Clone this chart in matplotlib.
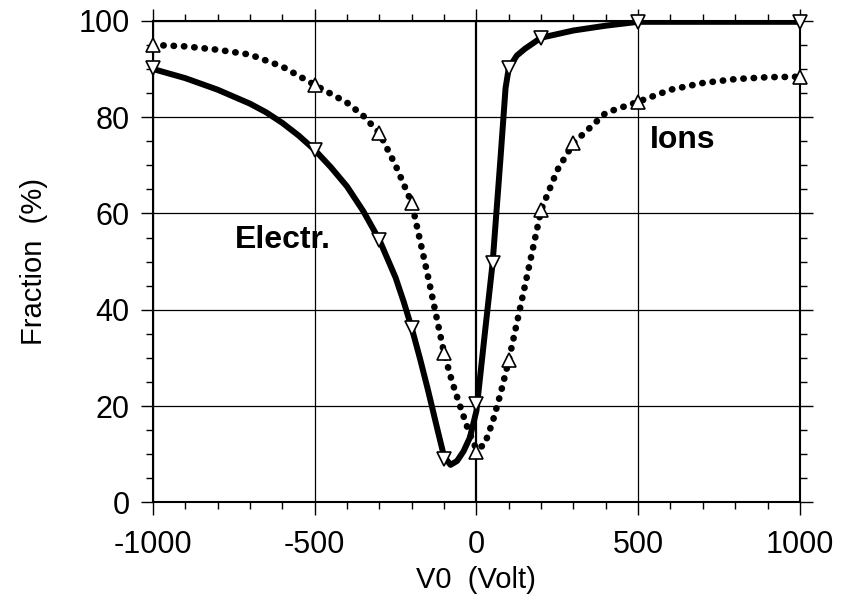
import matplotlib
matplotlib.use("Agg")
import matplotlib.pyplot as plt
from matplotlib.ticker import MultipleLocator

# Marker data
electr_x = [-1000, -500, -300, -200, -100, 0, 50, 100, 200, 500, 1000]
electr_y = [90.2, 73.2, 54.5, 36.2, 9.1, 20.5, 49.7, 90.2, 96.5, 99.8, 99.8]

ions_x = [-1000, -500, -300, -200, -100, 0, 100, 200, 300, 500, 1000]
ions_y = [95.0, 86.7, 76.7, 62.2, 31.0, 10.4, 29.5, 60.7, 74.6, 83.2, 88.4]

# Drawn curves
electr_curve_x = [-1000, -900, -800, -700, -650, -600, -550, -500, -450, -400,
                  -350, -300, -250, -225, -200, -175, -150, -120, -100, -80,
                  -60, -40, -20, 0, 25, 50, 75, 90, 100, 125, 150, 200, 300,
                  400, 500, 750, 1000]
electr_curve_y = [90.0, 88.1, 85.7, 82.8, 81.0, 78.8, 76.2, 73.2, 69.6, 65.6,
                  60.5, 54.5, 46.7, 41.7, 36.2, 30.0, 23.4, 15.0, 9.5, 7.8,
                  8.6, 10.6, 13.5, 19.0, 34.5, 49.7, 72.0, 86.0, 90.2, 92.8,
                  94.2, 96.5, 98.0, 99.0, 99.8, 99.8, 99.8]

ions_curve_x = [-1000, -900, -800, -700, -600, -500, -400, -350, -300, -250,
                -200, -150, -100, -75, -50, -25, 0, 25, 50, 75, 100, 150, 200,
                250, 300, 400, 500, 600, 700, 800, 900, 1000]
ions_curve_y = [95.0, 94.7, 94.0, 93.0, 90.5, 86.7, 83.0, 80.3, 76.7, 70.0,
                62.2, 47.0, 31.0, 25.0, 19.9, 15.0, 11.0, 12.0, 16.7, 22.7,
                29.5, 45.0, 60.7, 69.0, 74.6, 80.9, 83.2, 85.7, 87.1, 87.9,
                88.3, 88.4]

xticks = [-1000, -500, 0, 500, 1000]
xtick_labels = ["-1000", "-500", "0", "500", "1000"]
yticks = [0, 20, 40, 60, 80, 100]
ytick_labels = ["0", "20", "40", "60", "80", "100"]

plt.rcParams['font.family'] = ['Liberation Sans', 'DejaVu Sans']

fig = plt.figure(figsize=(8.5, 5.96), dpi=100)
ax = fig.add_axes([0.180, 0.157, 0.761, 0.808])

ax.set_xlim(-1000, 1000)
ax.set_ylim(0, 100)

# grid
for xv in xticks:
    ax.axvline(xv, color='black', lw=0.9 if xv != 0 else 1.6, zorder=1)
for yv in yticks:
    ax.axhline(yv, color='black', lw=0.9, zorder=1)

ax.plot(electr_curve_x, electr_curve_y, color='black', lw=4.3,
        solid_capstyle='round', solid_joinstyle='round', zorder=3)
ax.plot(ions_curve_x, ions_curve_y, color='black', lw=4.8,
        linestyle=(0, (0.05, 1.5)), dash_capstyle='round', zorder=3)

ax.plot(electr_x, electr_y, linestyle='none', marker='v', markersize=10,
        markerfacecolor='white', markeredgecolor='black', markeredgewidth=1.2,
        zorder=5, clip_on=False)
ax.plot(ions_x, ions_y, linestyle='none', marker='^', markersize=10,
        markerfacecolor='white', markeredgecolor='black', markeredgewidth=1.2,
        zorder=5, clip_on=False)

ax.text(-599, 54.5, "Electr.", fontsize=23, fontweight='bold',
        ha='center', va='center', zorder=4)
ax.text(638, 75.3, "Ions", fontsize=23, fontweight='bold',
        ha='center', va='center', zorder=4)

ax.set_xticks(xticks)
ax.set_xticklabels(xtick_labels)
ax.set_yticks(yticks)
ax.set_yticklabels(ytick_labels)
ax.xaxis.set_minor_locator(MultipleLocator(100))
ax.yaxis.set_minor_locator(MultipleLocator(5))

ax.tick_params(which='both', direction='out', top=True, right=True,
               width=1.0, colors='black', labelsize=22)
ax.tick_params(which='major', length=9)
ax.tick_params(which='minor', length=5)
ax.tick_params(axis='x', which='major', pad=11)
ax.tick_params(axis='y', which='major', pad=8)

for sp in ax.spines.values():
    sp.set_linewidth(1.5)

ax.set_xlabel("V0  (Volt)", fontsize=21, labelpad=4)
ax.set_ylabel("Fraction  (%)", fontsize=21, labelpad=22)

fig.savefig("out.png", dpi=100)
